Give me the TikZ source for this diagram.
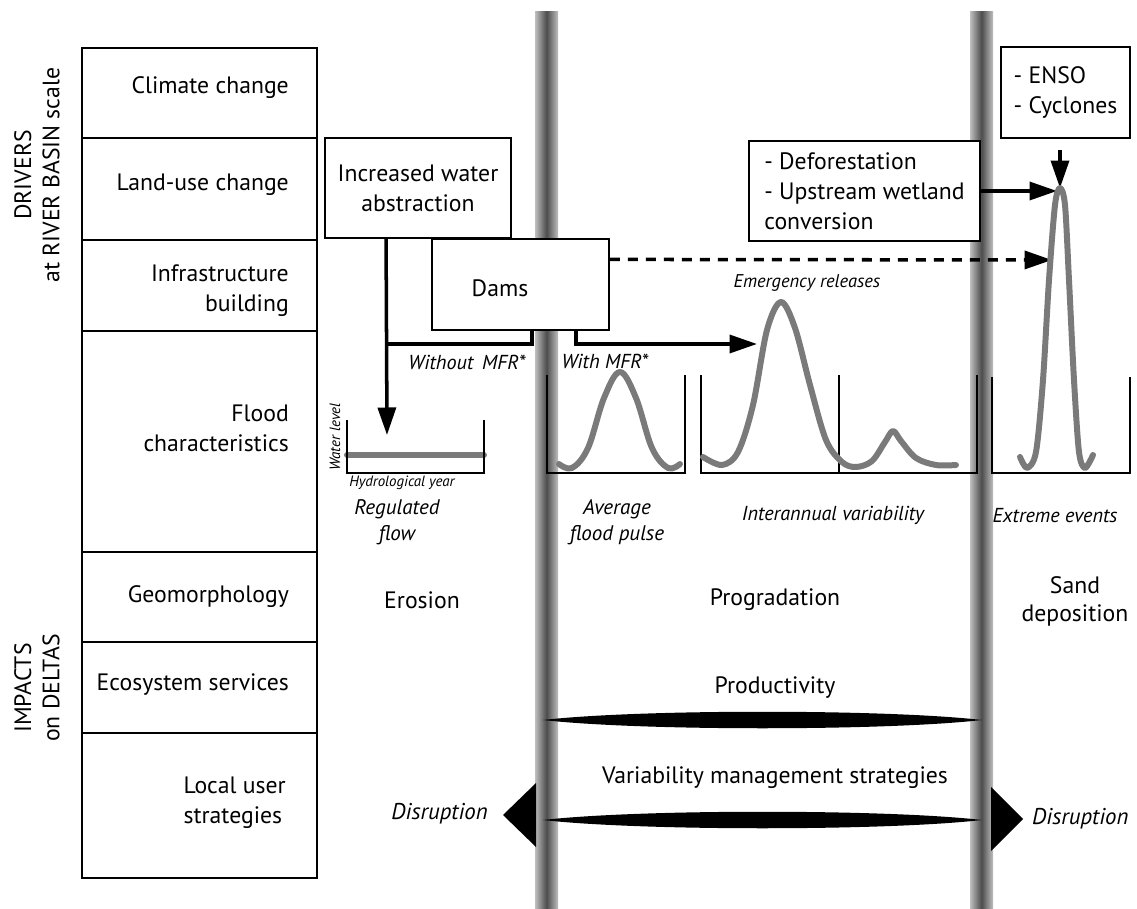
\documentclass[tikz,border=0pt]{standalone}
\usepackage{fontspec}
\setmainfont{PT Sans}
\usetikzlibrary{arrows.meta,calc,positioning}

\begin{document}
\begin{tikzpicture}[x=0.02cm, y=-0.02cm,
                    rowbox/.style={draw, line width=1.1pt, minimum width=4.7cm, anchor=north west, inner sep=0pt},
                    rowlab/.style={anchor=east, align=right, font=\fontsize{13.5}{17}\selectfont},
                    side/.style={rotate=90, align=center, font=\fontsize{13.5}{16}\selectfont},
                    box/.style={draw, line width=1.1pt, fill=white, align=center, font=\fontsize{13.5}{17}\selectfont},
                    txt/.style={align=center, font=\fontsize{13.5}{16}\selectfont},
                    itl/.style={align=center, font=\fontsize{11.5}{14}\selectfont\itshape},
                    tiny/.style={font=\fontsize{8.5}{10}\selectfont\itshape},
                    arr/.style={line width=2pt, -{Triangle[length=0.55cm, width=0.36cm]}},
                    conn/.style={line width=2pt},
                    axis/.style={line width=0.9pt},
                    flow/.style={line width=3.4pt, black!52, line cap=round, line join=round},
                    bar/.style={left color=black!25, right color=black!25, middle color=black!70}
]
\useasboundingbox (0,0) rectangle (1137,909);
%
% river bars
\shade [bar] (535,12) rectangle (558,909);
\shade [bar] (970,12) rectangle (993,909);
%
% left table
\node [rowbox, minimum height=1.8cm]  at (81,47)  (clim)  {};
\node [rowbox, minimum height=2.04cm] at (81,137) (land)  {};
\node [rowbox, minimum height=1.82cm] at (81,239) (infra) {};
\node [rowbox, minimum height=4.42cm] at (81,330) (flood) {};
\node [rowbox, minimum height=1.8cm]  at (81,551) (geo)   {};
\node [rowbox, minimum height=1.82cm] at (81,641) (eco)   {};
\node [rowbox, minimum height=2.9cm]  at (81,732) (local) {};
\node [rowlab] at (295,88)  (climlab)  {Climate change};
\node [rowlab] at (295,185) (landlab)  {Land-use change};
\node [rowlab] at (295,291) (infralab) {Infrastructure\\building};
\node [rowlab] at (295,428) (floodlab) {Flood\\characteristics};
\node [rowlab] at (295,597) (geolab)   {Geomorphology};
\node [rowlab] at (295,685) (ecolab)   {Ecosystem services};
\node [rowlab, align=left] at (292,803) (locallab) {Local user\\strategies};
\node [side] at (37,175) (drivers) {DRIVERS\\at RIVER BASIN scale};
\node [side] at (37,688) (impacts) {IMPACTS\\on DELTAS};
%
% drivers
\node [box, minimum width=3.72cm, minimum height=2cm] at (418,188) (abstr) {Increased water\\abstraction};
\node [box, minimum width=3.54cm, minimum height=1.82cm] at (520.5,284.5) (dams) {};
\node [txt] at (500,288) (damslab) {Dams};
\node [box, minimum width=4.62cm, minimum height=2cm, align=left] at (864.5,191) (defor) {- Deforestation\\- Upstream wetland\\conversion};
\node [box, minimum width=2.58cm, minimum height=1.82cm, align=left] at (1065.5,92.5) (enso) {- ENSO\\- Cyclones};
%
\coordinate (regtop) at (387,435);
\coordinate (wo) at (387,344);
\coordinate (emg) at (757,344);
\coordinate (peak) at (1060,188);
\coordinate (spike1) at (1057,191);
\coordinate (spike2) at (1052,260);
\draw [arr] ($(abstr.south west)!.33!(abstr.south east)$) -- (regtop);
\draw [conn] ($(dams.south west)!.565!(dams.south east)$) |- (wo);
\draw [arr] ($(dams.south west)!.81!(dams.south east)$) |- (emg);
\draw [arr, dash pattern=on 0.2cm off 0.16cm] ($(dams.north east)!.23!(dams.south east)$) -- (spike2);
\draw [arr] (defor.east) -- (defor.east -| spike1);
\draw [arr] ($(enso.south -| peak)+(0,11)$) -- (peak);
\node [itl] at (467,362) (without) {Without\, MFR*};
\node [itl] at (605,361) (with) {With MFR*};
\node [itl, font=\fontsize{10.5}{12}\selectfont\itshape] at (807,283) (emerg) {Emergency releases};
%
% flood graphs
\draw [flow] (347,455) -- (484,455);
\draw [axis] (347,420) |- (484,473) -- (484,420);
\node [tiny, rotate=90] at (335,437) (wl) {Water level};
\node [tiny] at (402,483) (hy) {Hydrological year};
\node [itl, font=\fontsize{12}{15}\selectfont\itshape] at (397,522) (reg) {Regulated\\flow};
%
\draw [axis] (547,375) |- (685,473) -- (685,375);
\draw [flow] plot [smooth, tension=0.6] coordinates {(559,464) (572,468) (588,448) (604,398) (620,372) (636,398) (652,448) (668,468) (680,464)};
\node [itl, font=\fontsize{12}{15}\selectfont\itshape] at (617,522) (avg) {Average\\flood pulse};
%
\draw [axis] (701,375) |- (977,473) -- (977,375);
\draw [axis] (839,375) -- (839,473);
\draw [flow] plot [smooth, tension=0.55] coordinates {(703,457) (722,465) (738,452) (753,405) (767,330) (781,302) (795,328) (810,385) (826,440) (842,462) (856,467) (872,461) (885,442) (893,431) (901,441) (916,458) (936,465) (956,465)};
\node [itl] at (833,515) (inter) {Interannual variability};
%
\draw [axis] (992,377) |- (1130,473) -- (1130,377);
\draw [flow] plot [smooth, tension=0.5] coordinates {(1020,457) (1027,468) (1036,452) (1043,380) (1049,280) (1055,205) (1060,188) (1065,205) (1069,280) (1074,380) (1079,452) (1085,468) (1093,455)};
\node [itl] at (1055,516) (extr) {Extreme events};
%
% impacts
\node [txt] at (422,600) (eros) {Erosion};
\node [txt] at (775,600) (prog) {Progradation};
\node [txt] at (1075,601) (sand) {Sand\\deposition};
\node [txt] at (775,688) (prod) {Productivity};
\fill (543,720) .. controls (640,709) and (885,709) .. (982,720) .. controls (885,731) and (640,731) .. cycle;
\node [txt] at (775,778) (vms) {Variability management strategies};
\fill (543,820) .. controls (640,809) and (885,809) .. (982,820) .. controls (885,831) and (640,831) .. cycle;
\fill (536,783) -- (503,815) -- (536,847) -- cycle;
\fill (991,787) -- (1023,819) -- (991,851) -- cycle;
\node [itl, font=\fontsize{13}{15}\selectfont\itshape, anchor=east] at (494,814) (disl) {Disruption};
\node [itl, font=\fontsize{13}{15}\selectfont\itshape, anchor=west] at (1026,819) (disr) {Disruption};
\end{tikzpicture}
\end{document}
